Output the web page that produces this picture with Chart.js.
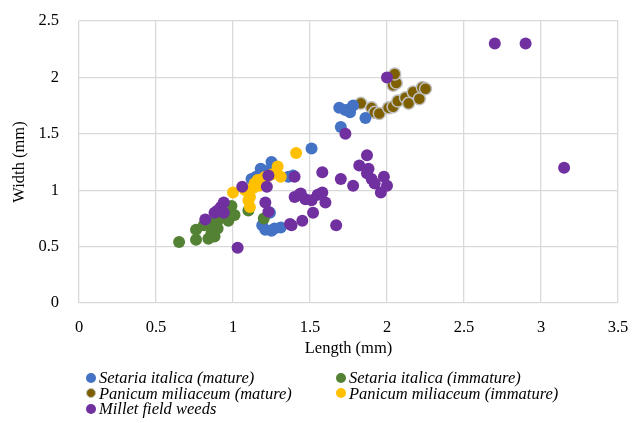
<!DOCTYPE html>
<html>
<head>
<meta charset="utf-8">
<script src="https://cdn.jsdelivr.net/npm/chart.js@4"></script>
<style>
  body { margin: 0; background: #fff; }
  #wrap { position: relative; width: 632px; height: 423px; }
  #legend {
    position: absolute; left: 86px; top: 370px;
    display: grid; grid-template-columns: 250px 300px;
    font: italic 16.5px "Liberation Serif", "Times New Roman", serif;
    line-height: 15.5px; color: #000;
  }
  #legend span.item { display: flex; align-items: center; white-space: nowrap; }
  #legend i.dot { display: inline-block; width: 10px; height: 10px; border-radius: 50%; margin-right: 3px; box-sizing: border-box; }
</style>
</head>
<body>
<div id="wrap">
  <canvas id="chart" width="632" height="423"></canvas>
  <div id="legend"></div>
</div>
<script>
// [length, width] pairs in mm
const setariaMature = [
  [1.12, 1.10], [1.15, 1.12], [1.18, 1.19], [1.22, 1.17], [1.25, 1.25], [1.28, 1.20],
  [1.36, 1.12], [1.39, 1.13], [1.24, 0.80], [1.21, 0.65], [1.25, 0.64], [1.27, 0.66],
  [1.31, 0.67], [1.19, 0.69], [1.51, 1.37], [1.70, 1.56], [1.69, 1.73], [1.73, 1.71],
  [1.76, 1.72], [1.76, 1.69], [1.78, 1.75], [1.86, 1.64]
];
const setariaImmature = [
  [0.65, 0.54], [0.76, 0.56], [0.76, 0.65], [0.81, 0.69], [0.84, 0.57], [0.86, 0.62],
  [0.87, 0.71], [0.88, 0.59], [0.90, 0.66], [0.90, 0.73], [0.92, 0.77], [0.97, 0.73],
  [0.98, 0.81], [0.99, 0.86], [1.01, 0.78], [1.10, 0.82], [1.20, 0.75]
];
const panicumMature = [
  [1.83, 1.77], [1.90, 1.73], [1.92, 1.69], [1.95, 1.68], [2.01, 1.73], [2.04, 1.74],
  [2.07, 1.79], [2.12, 1.82], [2.14, 1.77], [2.17, 1.87], [2.21, 1.81], [2.23, 1.91],
  [2.25, 1.90], [2.04, 1.93], [2.06, 1.95], [2.05, 2.03]
];
const panicumImmature = [
  [1.00, 0.98], [1.08, 1.00], [1.10, 0.91], [1.11, 0.85], [1.11, 0.94], [1.13, 1.02],
  [1.14, 1.06], [1.16, 1.09], [1.17, 1.04], [1.19, 1.10], [1.21, 1.12], [1.22, 1.12],
  [1.25, 1.14], [1.29, 1.21], [1.31, 1.12], [1.41, 1.33]
];
const milletWeeds = [
  [0.82, 0.74], [0.88, 0.80], [0.90, 0.82], [0.92, 0.85], [0.94, 0.89], [0.94, 0.80],
  [1.03, 0.49], [1.06, 1.03], [1.21, 0.89], [1.23, 0.81], [1.22, 1.03], [1.23, 1.13],
  [1.37, 0.70], [1.38, 0.69], [1.40, 1.12], [1.40, 0.94], [1.43, 0.96], [1.44, 0.97],
  [1.45, 0.73], [1.47, 0.92], [1.51, 0.91], [1.52, 0.80], [1.55, 0.96], [1.58, 0.98],
  [1.58, 1.16], [1.60, 0.89], [1.67, 0.69], [1.70, 1.10], [1.73, 1.50], [1.78, 1.04],
  [1.82, 1.22], [1.87, 1.31], [1.88, 1.19], [1.87, 1.15], [1.90, 1.10], [1.92, 1.06],
  [1.96, 0.98], [1.98, 1.12], [2.00, 1.04], [2.00, 2.00], [2.70, 2.30], [2.90, 2.30],
  [3.15, 1.20]
];
const seriesNames = [
  'Setaria italica (mature)', 'Setaria italica (immature)',
  'Panicum miliaceum (mature)', 'Panicum miliaceum (immature)', 'Millet field weeds'
];
const xTicks = [0, 0.5, 1, 1.5, 2, 2.5, 3, 3.5];
const yTicks = [0, 0.5, 1, 1.5, 2, 2.5];

const toPoints = (arr) => arr.map(([x, y]) => ({ x, y }));
const serif = '"Liberation Serif", "Times New Roman", serif';

const styles = [
  { color: '#4472C4', border: '#4472C4', bw: 0, order: 3 },
  { color: '#548235', border: '#548235', bw: 0, order: 2 },
  { color: '#7F6000', border: '#BFBFBF', bw: 1.5, order: 4 },
  { color: '#FFC000', border: '#FFC000', bw: 0, order: 1 },
  { color: '#7030A0', border: '#7030A0', bw: 0, order: 0 }
];
const allSeries = [setariaMature, setariaImmature, panicumMature, panicumImmature, milletWeeds];

const ctx = document.getElementById('chart').getContext('2d');
const chart = new Chart(ctx, {
  type: 'scatter',
  data: {
    datasets: allSeries.map((s, i) => ({
      label: seriesNames[i],
      data: toPoints(s),
      backgroundColor: styles[i].color,
      borderColor: styles[i].border,
      borderWidth: styles[i].bw,
      pointRadius: 6,
      pointHoverRadius: 6,
      order: styles[i].order
    }))
  },
  options: {
    responsive: false,
    animation: false,
    layout: { padding: { left: 8, right: 14, top: 21, bottom: 60 } },
    plugins: { legend: { display: false }, tooltip: { enabled: false } },
    scales: {
      x: {
        type: 'linear', min: 0, max: 3.5,
        afterBuildTicks: (scale) => { scale.ticks = xTicks.map(v => ({ value: v })); },
        afterFit: (scale) => { scale.height = 60; },
        // invisible tick marks just push the labels away from the plot
        grid: { color: '#D9D9D9', lineWidth: 1.3, drawTicks: true, tickLength: 15, tickColor: 'rgba(0,0,0,0)' },
        border: { display: false },
        ticks: { color: '#000', padding: 0, font: { family: serif, size: 16.5 }, callback: (v) => String(v) },
        title: { display: true, text: 'Length (mm)', color: '#000', padding: { top: 0, bottom: 4 }, font: { family: serif, size: 16.5 } }
      },
      y: {
        type: 'linear', min: 0, max: 2.5,
        afterBuildTicks: (scale) => { scale.ticks = yTicks.map(v => ({ value: v })); },
        afterFit: (scale) => { scale.width = 71; },
        grid: { color: '#D9D9D9', lineWidth: 1.3, drawTicks: true, tickLength: 20, tickColor: 'rgba(0,0,0,0)' },
        border: { display: false },
        ticks: { color: '#000', padding: 0, font: { family: serif, size: 16.5 }, callback: (v) => String(v) },
        title: { display: true, text: 'Width (mm)', color: '#000', padding: { top: 2, bottom: 0 }, font: { family: serif, size: 16.5 } }
      }
    }
  }
});

// legend in two columns, built from the datasets
const legendEl = document.getElementById('legend');
chart.data.datasets.forEach((ds) => {
  const item = document.createElement('span');
  item.className = 'item';
  const dot = document.createElement('i');
  dot.className = 'dot';
  dot.style.background = ds.backgroundColor;
  if (ds.borderWidth) dot.style.border = '1.5px solid ' + ds.borderColor;
  item.appendChild(dot);
  item.appendChild(document.createTextNode(ds.label));
  legendEl.appendChild(item);
});
</script>
</body>
</html>
